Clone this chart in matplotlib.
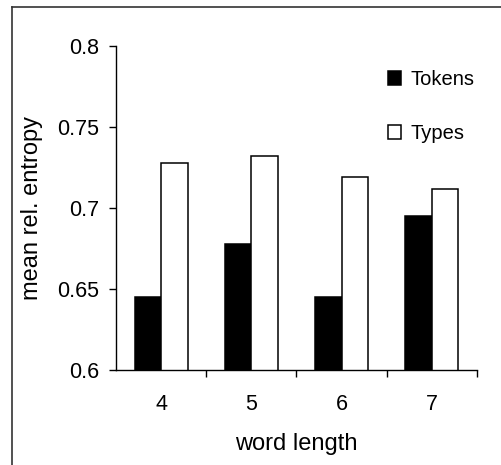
import matplotlib
matplotlib.use("Agg")
import matplotlib.pyplot as plt
from matplotlib.patches import Patch
from matplotlib.lines import Line2D
import numpy as np

plt.rcParams['font.family'] = ['Liberation Sans', 'DejaVu Sans']

# data
word_lengths = ["4", "5", "6", "7"]
tokens = [0.645, 0.678, 0.645, 0.695]
types = [0.728, 0.732, 0.719, 0.712]

fig = plt.figure(figsize=(5.02, 4.65), dpi=100)
ax = fig.add_axes([116/502, 1-370/465, (477-116)/502, (370-46)/465])

x = np.arange(len(word_lengths))
w = 0.295
ax.bar(x - w/2, tokens, w, color='black', edgecolor='black', linewidth=1.1, label='Tokens')
ax.bar(x + w/2, types, w, color='white', edgecolor='black', linewidth=1.1, label='Types')

ax.set_xlim(-0.5, len(word_lengths) - 0.5)
ax.set_ylim(0.6, 0.8)
ax.set_yticks([0.6, 0.65, 0.7, 0.75, 0.8])
ax.set_yticklabels(["0.6", "0.65", "0.7", "0.75", "0.8"])
ax.set_xticks(x)
ax.set_xticklabels(word_lengths)
ax.set_xticks(np.arange(len(word_lengths)) + 0.5, minor=True)
ax.tick_params(axis='x', which='major', length=0, pad=17, labelsize=15.5)
ax.tick_params(axis='x', which='minor', length=5, width=1, direction='out')
ax.tick_params(axis='y', length=5, width=1, direction='out', pad=7, labelsize=15.5)

for s in ['top', 'right']:
    ax.spines[s].set_visible(False)
for s in ['left', 'bottom']:
    ax.spines[s].set_linewidth(1)

ax.set_xlabel('word length', fontsize=17, labelpad=13)
ax.set_ylabel('mean rel. entropy', fontsize=17, labelpad=10)

handles = [Patch(facecolor='black', edgecolor='black', linewidth=1.1),
           Patch(facecolor='white', edgecolor='black', linewidth=1.1)]
fig.legend(handles, ['Tokens', 'Types'], loc='upper left',
           bbox_to_anchor=(388/502, 1-70/465), frameon=False, fontsize=14.5,
           borderpad=0, borderaxespad=0,
           handlelength=0.65, handleheight=0.65, handletextpad=0.45, labelspacing=1.75)

# outer chart frame (only left and top edges fall inside the image)
fig.add_artist(Line2D([12/502, 12/502], [0, 1-7/465], transform=fig.transFigure, color='#333333', linewidth=1.2))
fig.add_artist(Line2D([12/502, 1], [1-7/465, 1-7/465], transform=fig.transFigure, color='#333333', linewidth=1.2))

fig.savefig('out.png', dpi=100)
